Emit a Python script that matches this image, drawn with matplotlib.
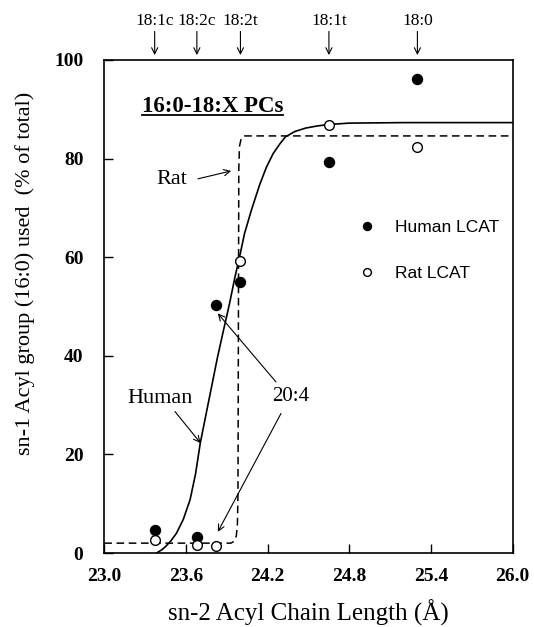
import matplotlib
matplotlib.use("Agg")
import matplotlib.pyplot as plt
from matplotlib.lines import Line2D

# ---------------- data ----------------
chain_x = [23.37, 23.68, 23.82, 24.00, 24.65, 25.30]
human_y = [4.7, 3.2, 50.3, 54.9, 79.3, 96.1]
rat_y = [2.6, 1.6, 1.4, 59.3, 86.8, 82.4]

# fitted curves
human_fit_x = [23.383, 23.42, 23.45, 23.49, 23.53, 23.58, 23.63, 23.67, 23.705,
               23.75, 23.79, 23.83, 23.87, 23.92, 23.96, 23.99, 24.03, 24.08,
               24.14, 24.19, 24.24, 24.29, 24.33, 24.40, 24.48, 24.56, 24.64,
               24.80, 25.20, 26.00]
human_fit_y = [0.0, 0.6, 1.3, 2.5, 4.0, 6.8, 10.8, 16.0, 22.3,
               28.5, 34.0, 39.5, 44.5, 50.6, 56.0, 59.6, 64.8, 69.5,
               74.6, 78.2, 81.0, 83.0, 84.4, 85.5, 86.2, 86.6, 86.9,
               87.2, 87.3, 87.3]
rat_fit_x = [23.00, 23.93, 23.955, 23.970, 23.978, 23.982, 23.985, 23.988,
             23.993, 24.005, 24.025, 26.00]
rat_fit_y = [2.0, 2.0, 2.4, 3.5, 6.0, 12.0, 45.0, 78.0, 82.5, 84.0, 84.6, 84.6]

top_labels = ["18:1c", "18:2c", "18:2t", "18:1t", "18:0"]
top_x = [23.37, 23.68, 24.00, 24.65, 25.30]

x_ticks = [23.0, 23.6, 24.2, 24.8, 25.4, 26.0]
y_ticks = [0, 20, 40, 60, 80, 100]

SERIF = ["Liberation Serif", "DejaVu Serif"]
SANS = ["Liberation Sans", "DejaVu Sans"]
plt.rcParams["font.family"] = SERIF

fig = plt.figure(figsize=(5.34, 6.27), dpi=100)
W, H = 534, 627
ax_l, ax_r, ax_t, ax_b = 104.3, 512.7, 60.0, 553.0
ax = fig.add_axes([ax_l / W, 1 - ax_b / H, (ax_r - ax_l) / W, (ax_b - ax_t) / H])

ax.set_xlim(23.0, 26.0)
ax.set_ylim(0, 100)

# curves
ax.plot(human_fit_x, human_fit_y, color="black", lw=1.2, solid_capstyle="round")
ax.plot(rat_fit_x, rat_fit_y, color="black", lw=1.1, linestyle=(0, (5.0, 3.0)))

# points
h_sc, = ax.plot(chain_x, human_y, "o", color="black", markersize=7.2,
                linestyle="none", label="Human LCAT")
r_sc, = ax.plot(chain_x, rat_y, "o", markerfacecolor="white", markeredgecolor="black",
                markeredgewidth=1.0, markersize=7.0, linestyle="none", label="Rat LCAT")

# ticks & spines
ax.set_xticks(x_ticks)
ax.set_xticklabels([f"{v:.1f}" for v in x_ticks])
ax.set_yticks(y_ticks)
ax.tick_params(axis="both", direction="in", length=6.5, width=1.0, labelsize=14,
               top=False, right=False)
ax.tick_params(axis="x", pad=11)
ax.tick_params(axis="y", pad=15)
for lab in ax.get_xticklabels() + ax.get_yticklabels():
    lab.set_fontweight("bold")
for sp in ax.spines.values():
    sp.set_linewidth(1.2)

ax.set_xlabel("sn-2 Acyl Chain Length (Å)", fontsize=18, labelpad=10)
ax.set_ylabel("sn-1 Acyl group (16:0) used  (% of total)", fontsize=16)
ax.yaxis.set_label_coords(-0.170, 0.568)

# legend
leg = ax.legend(handles=[h_sc, r_sc], loc="upper left", bbox_to_anchor=(0.621, 0.675),
                frameon=False, borderpad=0, borderaxespad=0, numpoints=1,
                markerscale=0.8, handlelength=1.0, handletextpad=1.15,
                labelspacing=1.75, prop={"family": SANS, "size": 12.5})

# title
title = ax.text(23.274, 89.5, "16:0-18:X PCs", fontsize=16.5, fontweight="bold",
                ha="left", va="baseline")

arrow_kw = dict(arrowstyle="->", lw=0.8, color="black", shrinkA=0, shrinkB=0,
                mutation_scale=11)

# in-plot annotations
ax.text(23.499, 75.7, "Rat", fontsize=16, ha="center", va="center")
ax.annotate("", xy=(23.932, 77.5), xytext=(23.688, 75.9), arrowprops=arrow_kw)

ax.text(23.407, 31.4, "Human", fontsize=16, ha="center", va="center")
ax.annotate("", xy=(23.707, 22.3), xytext=(23.519, 28.7), arrowprops=arrow_kw)

ax.text(24.371, 31.7, "20:4", fontsize=15, ha="center", va="center")
ax.annotate("", xy=(23.834, 48.6), xytext=(24.261, 34.7), arrowprops=arrow_kw)
ax.annotate("", xy=(23.834, 4.3), xytext=(24.298, 28.3), arrowprops=arrow_kw)

# top labels with arrows
for lbl, xv in zip(top_labels, top_x):
    ax.annotate("", xy=(xv, 1.010), xytext=(xv, 1.058),
                xycoords=("data", "axes fraction"), textcoords=("data", "axes fraction"),
                arrowprops=arrow_kw, annotation_clip=False)
    ax.text(xv, 1.079, lbl, fontsize=12.5, ha="center", va="center",
            transform=ax.get_xaxis_transform(), clip_on=False)

# underline for title
fig.canvas.draw()
bb = title.get_window_extent()
inv = fig.transFigure.inverted()
y_base = ax.transData.transform((0, 89.5))[1] - 3.0
p0 = inv.transform((bb.x0, y_base))
p1 = inv.transform((bb.x1, y_base))
fig.add_artist(Line2D([p0[0], p1[0]], [p0[1], p1[1]], color="black", lw=1.3,
                      transform=fig.transFigure))

fig.savefig("out.png", dpi=100)
